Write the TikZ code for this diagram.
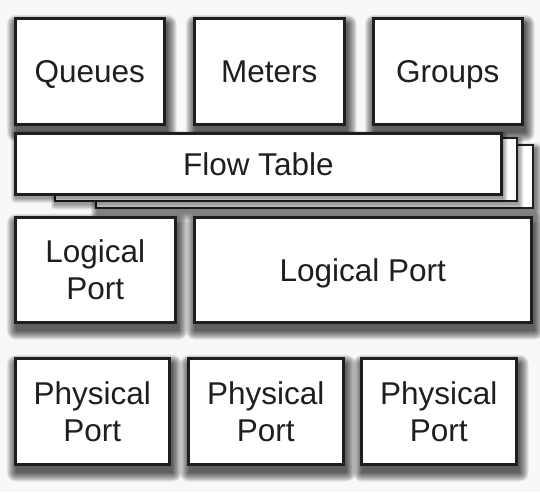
\documentclass[tikz,border=0pt]{standalone}
\usepackage{fontspec}
\setmainfont{Liberation Sans}
\usetikzlibrary{backgrounds}
\pgfdeclarelayer{bgl}
\pgfdeclarelayer{shl}
\pgfdeclarelayer{layc}
\pgfdeclarelayer{shc}
\pgfdeclarelayer{layb}
\pgfdeclarelayer{shb}
\pgfsetlayers{bgl,shl,layc,shc,layb,shb,main}
\definecolor{edge}{HTML}{1E1E1E}
\definecolor{bgc}{HTML}{F8F8F8}
\tikzset{
  boxstyle/.style={draw=edge, line width=2.6pt, fill=white, anchor=north west,
    inner sep=0pt, align=center, text=edge,
    font=\fontsize{31.5}{37}\selectfont},
  oneline/.style={text height=22.5pt, text depth=0pt},
  layer/.style={draw=edge, line width=2.4pt, fill=white, anchor=north west, inner sep=0pt},
  shadowpiece/.style={fill=black, opacity=0.085}
}
\newcommand{\softshadow}[4]{% node, xshift, yshift, steps
  \foreach \r in {0,...,#4} {
    \fill[shadowpiece, rounded corners=\r pt]
      ([shift={(#2pt-\r pt,#3pt-\r pt)}]#1.south west) rectangle
      ([shift={(#2pt+\r pt,#3pt+\r pt)}]#1.north east);
  }}
\begin{document}
\begin{tikzpicture}[x=1pt, y=1pt]
\begin{pgfonlayer}{bgl}
\fill[bgc] (0,0) rectangle (540,492);
\end{pgfonlayer}
\useasboundingbox (0,0) rectangle (540,492);
% top row
\node[boxstyle, oneline, minimum width=149pt, minimum height=106pt] (queues) at (14,492-17) {Queues};
\node[boxstyle, oneline, minimum width=150pt, minimum height=106pt] (meters) at (193,492-17) {Meters};
\node[boxstyle, oneline, minimum width=149pt, minimum height=106pt] (groups) at (372,492-17) {Groups};
% flow table stack
\begin{pgfonlayer}{layc}
\node[layer, minimum width=437pt, minimum height=63pt] (ft3) at (95,492-144) {};
\end{pgfonlayer}
\begin{pgfonlayer}{layb}
\node[layer, minimum width=462pt, minimum height=63pt] (ft2) at (54,492-137) {};
\end{pgfonlayer}
\node[boxstyle, oneline, minimum width=486pt, minimum height=61pt] (ft1) at (14,492-132) {Flow Table};
% logical ports
\node[boxstyle, minimum width=160pt, minimum height=105pt] (lp1) at (14,492-216) {Logical\\Port};
\node[boxstyle, oneline, minimum width=337pt, minimum height=105pt] (lp2) at (193,492-216) {Logical Port};
% physical ports
\node[boxstyle, minimum width=154pt, minimum height=106pt] (pp1) at (14,492-357) {Physical\\Port};
\node[boxstyle, minimum width=155pt, minimum height=106pt] (pp2) at (187,492-357) {Physical\\Port};
\node[boxstyle, minimum width=155pt, minimum height=106pt] (pp3) at (360,492-357) {Physical\\Port};
% shadows
\begin{pgfonlayer}{shl}
\foreach \n in {queues,meters,groups,lp1,lp2,pp1,pp2,pp3} {\softshadow{\n}{2}{-7}{9}}
\softshadow{ft3}{2}{-5}{6}
\end{pgfonlayer}
\begin{pgfonlayer}{shc}
\softshadow{ft2}{1}{-3}{4}
\end{pgfonlayer}
\begin{pgfonlayer}{shb}
\softshadow{ft1}{1}{-3}{4}
\end{pgfonlayer}
\end{tikzpicture}
\end{document}
